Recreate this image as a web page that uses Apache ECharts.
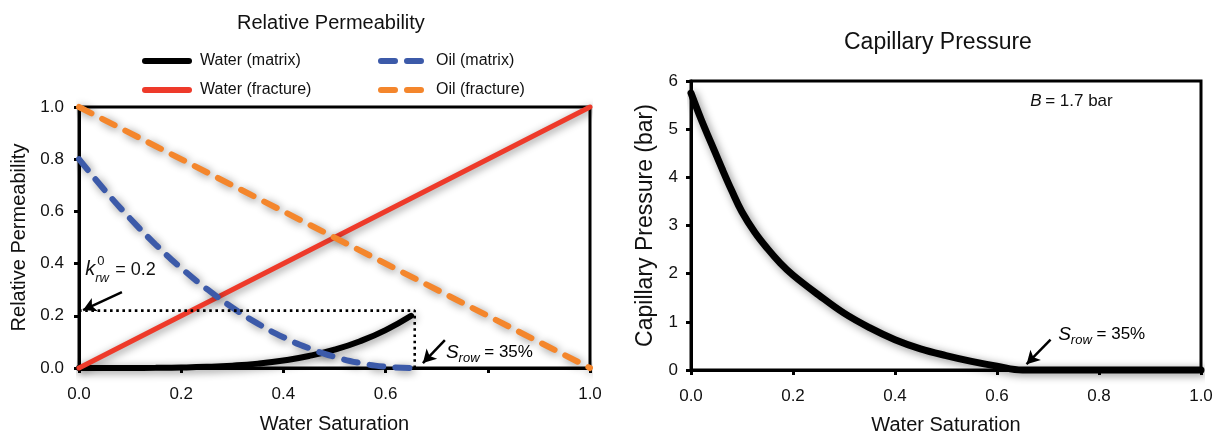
<!DOCTYPE html>
<html>
<head>
<meta charset="utf-8">
<script src="https://cdn.jsdelivr.net/npm/echarts@6/dist/echarts.min.js"></script>
<style>
html,body{margin:0;padding:0;background:#fff;}
#c{width:1221px;height:440px;}
</style>
</head>
<body>
<div id="c"></div>
<script>
// ---------- data ----------
const swMatrix   = [0, 0.05, 0.1, 0.15, 0.2, 0.25, 0.3, 0.35, 0.4, 0.45, 0.5, 0.55, 0.6, 0.65];
const krwMatrix  = [0, 0.0000, 0.0001, 0.0006, 0.0018, 0.0044, 0.0091, 0.0168, 0.0287, 0.0459, 0.0700, 0.1025, 0.1452, 0.2];
const kroMatrix  = [0.8, 0.682, 0.573, 0.473, 0.383, 0.303, 0.232, 0.170, 0.118, 0.076, 0.043, 0.019, 0.005, 0];
const swFracture = [0, 1];
const krwFracture = [0, 1];
const kroFracture = [1, 0];
const swPc = [0, 0.02, 0.04, 0.06, 0.08, 0.1, 0.125, 0.15, 0.175, 0.2, 0.25, 0.3, 0.35, 0.4, 0.45, 0.5, 0.55, 0.6, 0.65, 0.8, 1.0];
const pcVals = [5.75, 5.2, 4.7, 4.2, 3.72, 3.28, 2.86, 2.52, 2.22, 1.97, 1.56, 1.18, 0.88, 0.63, 0.44, 0.30, 0.18, 0.08, 0, 0, 0];
const krwEndpoint = 0.22;   // dotted guide level
const swEndpoint = 0.657;   // dotted guide position
const xTickLabelsLeft  = ['0.0', '0.2', '0.4', '0.6', '', '1.0'];
const yTickLabelsLeft  = ['0.0', '0.2', '0.4', '0.6', '0.8', '1.0'];
const xTickLabelsRight = ['0.0', '0.2', '0.4', '0.6', '0.8', '1.0'];
const yTickLabelsRight = ['0', '1', '2', '3', '4', '5', '6'];
const seriesNames = ['Water (matrix)', 'Water (fracture)', 'Oil (matrix)', 'Oil (fracture)'];
// annotation anchors (data coordinates)
const krwArrow = [[0.084, 0.291], [0.008, 0.222]];
const srowArrowLeft = [[0.716, 0.107], [0.673, 0.019]];
const srowArrowRight = [[0.705, 0.63], [0.658, 0.12]];
const krwTextAt = [0.012, 0.378];
const srowTextLeftAt = [0.718, 0.06];
const srowTextRightAt = [0.72, 0.74];
const bTextAt = [0.665, 5.58];

// ---------- helpers ----------
const pairs = (xs, ys) => xs.map((x, i) => [x, ys[i]]);
const FONT = '"Liberation Sans", Arial, Helvetica, sans-serif';
const RED = '#ee3a2a', ORANGE = '#f4862c', BLUE = '#3c5aa9', BLACK = '#000';
const shadow = {shadowColor: 'rgba(0,0,0,0.45)', shadowBlur: 8, shadowOffsetX: 2, shadowOffsetY: 2};

function axisCommon(labels, step, fontSize, margin) {
  return {
    axisLine: {show: true, onZero: false, lineStyle: {color: '#000', width: 3}},
    axisTick: {show: true, inside: false, length: 5, lineStyle: {color: '#000', width: 3}},
    splitLine: {show: false},
    axisLabel: {
      color: '#111', fontFamily: FONT, fontSize: fontSize, margin: margin,
      formatter: v => { const i = Math.round(v / step); return labels[i] !== undefined ? labels[i] : ''; }
    },
    nameLocation: 'middle',
    nameTextStyle: {color: '#111', fontFamily: FONT, fontSize: 20}
  };
}

const arrowMark = (pts) => ({
  silent: true, animation: false,
  symbol: ['none', 'arrow'], symbolSize: [11, 13],
  lineStyle: {color: '#000', width: 2.5, type: 'solid'},
  label: {show: false},
  emphasis: {disabled: true},
  data: [[{coord: pts[0]}, {coord: pts[1]}]]
});

const chart = echarts.init(document.getElementById('c'), null, {renderer: 'canvas'});

const legendCommon = {
  orient: 'vertical', top: 53, padding: 0, itemWidth: 44, itemHeight: 14, itemGap: 13,
  textStyle: {fontFamily: FONT, fontSize: 16, color: '#111', padding: [0, 0, 0, 6]}, selectedMode: false,
  itemStyle: {opacity: 0},
  lineStyle: {width: 6, cap: 'round'}
};

const option = {
  animation: false,
  backgroundColor: '#fff',
  title: [
    {text: 'Relative Permeability', left: 232, top: 8, textStyle: {fontFamily: FONT, fontSize: 20, fontWeight: 'normal', color: '#111'}},
    {text: 'Capillary Pressure', left: 839, top: 26, textStyle: {fontFamily: FONT, fontSize: 23, fontWeight: 'normal', color: '#111'}}
  ],
  legend: [
    Object.assign({data: [seriesNames[0], seriesNames[1]], left: 142}, legendCommon),
    Object.assign({data: [seriesNames[2], seriesNames[3]], left: 378}, legendCommon)
  ],
  grid: [
    {left: 79, right: 631, top: 107, bottom: 72, show: true, borderColor: '#000', borderWidth: 3, backgroundColor: 'transparent'},
    {left: 691, right: 20, top: 81, bottom: 70, show: true, borderColor: '#000', borderWidth: 3, backgroundColor: 'transparent'}
  ],
  xAxis: [
    Object.assign(axisCommon(xTickLabelsLeft, 0.2, 17, 18), {gridIndex: 0, type: 'value', min: 0, max: 1, interval: 0.2, name: 'Water Saturation', nameGap: 46}),
    Object.assign(axisCommon(xTickLabelsRight, 0.2, 17, 18), {gridIndex: 1, type: 'value', min: 0, max: 1, interval: 0.2, name: 'Water Saturation', nameGap: 45})
  ],
  yAxis: [
    Object.assign(axisCommon(yTickLabelsLeft, 0.2, 17, 15), {gridIndex: 0, type: 'value', min: 0, max: 1, interval: 0.2, name: 'Relative Permeability', nameGap: 50}),
    Object.assign(axisCommon(yTickLabelsRight, 1, 17, 13), {gridIndex: 1, type: 'value', min: 0, max: 6, interval: 1, name: 'Capillary Pressure (bar)', nameGap: 34,
      nameTextStyle: {color: '#111', fontFamily: FONT, fontSize: 23}})
  ],
  series: [
    {name: 'Water (matrix)', type: 'line', xAxisIndex: 0, yAxisIndex: 0, data: pairs(swMatrix, krwMatrix), smooth: true,
     showSymbol: false, symbol: 'none', clip: false, z: 3, color: BLACK,
     lineStyle: Object.assign({color: BLACK, width: 6, cap: 'round'}, shadow)},
    {name: 'Water (fracture)', type: 'line', xAxisIndex: 0, yAxisIndex: 0, data: pairs(swFracture, krwFracture),
     showSymbol: false, symbol: 'none', clip: false, z: 4, color: RED,
     lineStyle: Object.assign({color: RED, width: 5, cap: 'round'}, shadow)},
    {name: 'Oil (matrix)', type: 'line', xAxisIndex: 0, yAxisIndex: 0, data: pairs(swMatrix, kroMatrix), smooth: true,
     showSymbol: false, symbol: 'none', clip: false, z: 5, color: BLUE,
     lineStyle: Object.assign({color: BLUE, width: 6, type: [14, 12], cap: 'round'}, shadow)},
    {name: 'Oil (fracture)', type: 'line', xAxisIndex: 0, yAxisIndex: 0, data: pairs(swFracture, kroFracture),
     showSymbol: false, symbol: 'none', clip: false, z: 5, color: ORANGE,
     lineStyle: Object.assign({color: ORANGE, width: 6, type: [14, 12], cap: 'round'}, shadow)},
    // dotted guides + arrows (left)
    {name: 'guide-h', type: 'line', xAxisIndex: 0, yAxisIndex: 0, data: [[0, krwEndpoint], [swEndpoint, krwEndpoint], [swEndpoint, 0]],
     showSymbol: false, symbol: 'none', z: 6, silent: true,
     lineStyle: {color: '#000', width: 2.6, type: [2.6, 3.6]},
     markLine: arrowMark(krwArrow)},
    {name: 'guide-arrow2', type: 'line', xAxisIndex: 0, yAxisIndex: 0, data: [], showSymbol: false, symbol: 'none', z: 6, silent: true,
     markLine: arrowMark(srowArrowLeft)},
    // capillary pressure
    {name: 'Capillary Pressure', type: 'line', xAxisIndex: 1, yAxisIndex: 1, data: pairs(swPc, pcVals), smooth: 0.4,
     showSymbol: false, symbol: 'none', clip: false, z: 3, color: BLACK,
     lineStyle: Object.assign({color: BLACK, width: 7, cap: 'round'}, shadow),
     markLine: arrowMark(srowArrowRight)}
  ]
};
chart.setOption(option);

// ---------- annotation texts ----------
const P0 = p => chart.convertToPixel({gridIndex: 0}, p);
const P1 = p => chart.convertToPixel({gridIndex: 1}, p);
const kAt = P0(krwTextAt), sL = P0(srowTextLeftAt), sR = P1(srowTextRightAt), bAt = P1(bTextAt);
const txt = (x, y, text, style) => ({type: 'text', x: x, y: y, silent: true, z: 100,
  style: Object.assign({text: text, fill: '#111', font: '18px ' + FONT, textVerticalAlign: 'middle', textAlign: 'left'}, style || {})});
const srowRich = {
  S: {fontFamily: FONT, fontSize: 19, fontStyle: 'italic', color: '#111', lineHeight: 22},
  sub: {fontFamily: FONT, fontSize: 13, fontStyle: 'italic', color: '#111', lineHeight: 13, verticalAlign: 'bottom', padding: [0, 0, -2, 0]},
  t: {fontFamily: FONT, fontSize: 17, color: '#111', lineHeight: 22}
};
const richText = (x, y, str) => ({type: 'text', x: x, y: y, silent: true, z: 100,
  style: {text: str, rich: srowRich, verticalAlign: 'middle', align: 'left'}});

chart.setOption({
  graphic: [
    txt(kAt[0], kAt[1], 'k', {font: 'italic 20px ' + FONT}),
    txt(kAt[0] + 12, kAt[1] - 8, '0', {font: '13px ' + FONT}),
    txt(kAt[0] + 10, kAt[1] + 9, 'rw', {font: 'italic 13px ' + FONT}),
    txt(kAt[0] + 30, kAt[1] + 1, '= 0.2', {font: '18px ' + FONT}),
    richText(sL[0], sL[1], '{S|S}{sub|row}{t| = 35%}'),
    richText(sR[0], sR[1], '{S|S}{sub|row}{t| = 35%}'),
    txt(bAt[0], bAt[1], 'B', {font: 'italic 17px ' + FONT}),
    txt(bAt[0] + 15, bAt[1], '= 1.7 bar', {font: '17px ' + FONT})
  ]
});
</script>
</body>
</html>
